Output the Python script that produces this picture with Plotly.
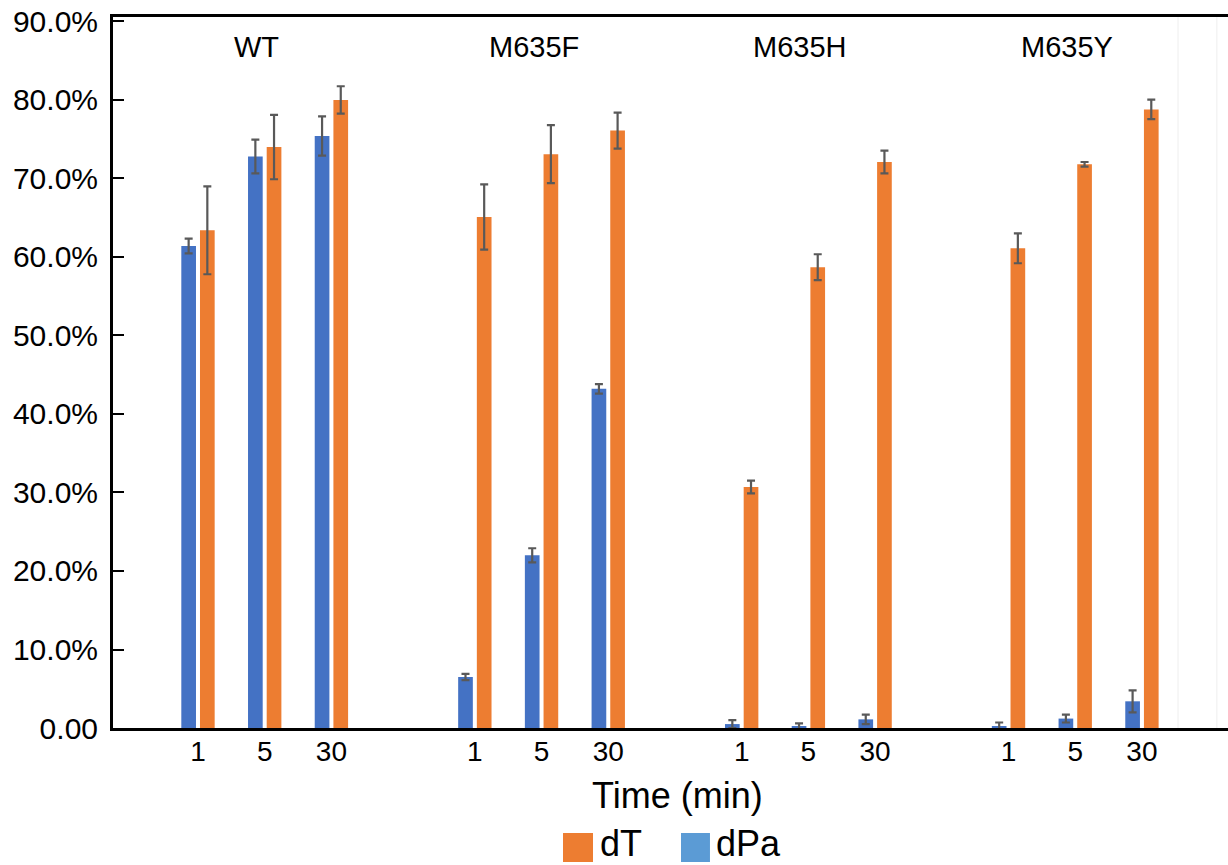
import plotly.graph_objects as go

groups = ["WT", "M635F", "M635H", "M635Y"]
times = ["1", "5", "30"]

# values in percent, listed per group then per time
dPa = [61.4, 72.8, 75.4,
       6.5, 22.0, 43.2,
       0.5, 0.2, 1.1,
       0.2, 1.2, 3.4]
dPa_err = [0.95, 2.15, 2.5,
           0.4, 0.9, 0.6,
           0.5, 0.4, 0.6,
           0.5, 0.5, 1.4]
dT = [63.4, 74.0, 80.0,
      65.1, 73.1, 76.1,
      30.7, 58.7, 72.1,
      61.1, 71.8, 78.8]
dT_err = [5.6, 4.1, 1.75,
          4.15, 3.7, 2.3,
          0.8, 1.65, 1.45,
          1.9, 0.3, 1.25]

y_tick_vals = [0, 10, 20, 30, 40, 50, 60, 70, 80, 90]
y_tick_text = ["0.00", "10.0%", "20.0%", "30.0%", "40.0%", "50.0%",
               "60.0%", "70.0%", "80.0%", "90.0%"]

# layout of category positions
group_offsets = [0.0, 4.15, 8.15, 12.15]
xpos = [g + i for g in group_offsets for i in range(len(times))]
xlabels = [t for _ in groups for t in times]

BLUE = "#4472C4"
ORANGE = "#ED7D31"
LEG_BLUE = "#5B9BD5"
ERR = "#595959"
FONT = "Liberation Sans, Arial, Helvetica, sans-serif"

fig = go.Figure()
fig.add_trace(go.Bar(
    x=xpos, y=dPa, name="dPa", marker=dict(color=BLUE, line=dict(width=0)),
    offset=-0.25, width=0.22, showlegend=False,
    error_y=dict(type="data", array=dPa_err, color=ERR, thickness=2.2, width=4),
))
fig.add_trace(go.Bar(
    x=xpos, y=dT, name="dT", marker=dict(color=ORANGE, line=dict(width=0)),
    offset=0.03, width=0.22, showlegend=False,
    error_y=dict(type="data", array=dT_err, color=ERR, thickness=2.2, width=4),
))

annotations = []
for g, off in zip(groups, group_offsets):
    annotations.append(dict(x=off + 0.88, y=1, xref="x", yref="paper",
                            yanchor="middle", xanchor="center", yshift=-30,
                            text=g, showarrow=False,
                            font=dict(family=FONT, size=29, color="black")))

annotations.append(dict(x=0.5067, y=-0.0956, xref="paper", yref="paper",
                        text="Time (min)", showarrow=False,
                        xanchor="center", yanchor="middle",
                        font=dict(family=FONT, size=36, color="black")))
annotations.append(dict(x=0.435, y=-0.1625, xref="paper", yref="paper",
                        text="dT", showarrow=False, xanchor="left", yanchor="middle",
                        font=dict(family=FONT, size=36, color="black")))
annotations.append(dict(x=0.539, y=-0.1625, xref="paper", yref="paper",
                        text="dPa", showarrow=False, xanchor="left", yanchor="middle",
                        font=dict(family=FONT, size=36, color="black")))

shapes = [
    dict(type="rect", xref="paper", yref="paper", x0=0.4036, x1=0.4305,
         y0=-0.1885, y1=-0.1477, fillcolor=ORANGE, line=dict(width=0)),
    dict(type="rect", xref="paper", yref="paper", x0=0.5094, x1=0.5354,
         y0=-0.1885, y1=-0.1477, fillcolor=LEG_BLUE, line=dict(width=0)),
    dict(type="line", xref="paper", yref="paper", x0=0.9552, x1=0.9552, y0=0, y1=1,
         line=dict(color="#EEEEEE", width=1)),
    dict(type="line", xref="paper", yref="paper", x0=0.99, x1=0.99, y0=0, y1=1,
         line=dict(color="#EEEEEE", width=1)),
]

fig.update_layout(
    width=1228, height=865,
    margin=dict(l=113, r=0, t=17, b=137),
    paper_bgcolor="white", plot_bgcolor="white",
    barmode="overlay",
    showlegend=False,
    annotations=annotations,
    shapes=shapes,
    font=dict(family=FONT, color="black"),
)
fig.update_xaxes(
    range=[-1.274, 15.44],
    tickmode="array", tickvals=xpos, ticktext=xlabels,
    ticks="", showgrid=False, zeroline=False,
    showline=True, linecolor="black", linewidth=3, mirror=True,
    ticklabelstandoff=-4,
    tickfont=dict(family=FONT, size=28, color="black"),
)
fig.update_yaxes(
    range=[0, 90.57],
    tickmode="array", tickvals=y_tick_vals, ticktext=y_tick_text,
    ticks="inside", ticklen=11, tickwidth=2, tickcolor="black",
    showgrid=False, zeroline=False,
    showline=True, linecolor="black", linewidth=3, mirror=False,
    ticklabelstandoff=6,
    tickfont=dict(family=FONT, size=30, color="black"),
)

fig.write_html(
    "out.html",
    config={"displayModeBar": False},
    post_script="document.body.style.margin='0';document.body.style.overflow='hidden';",
)
